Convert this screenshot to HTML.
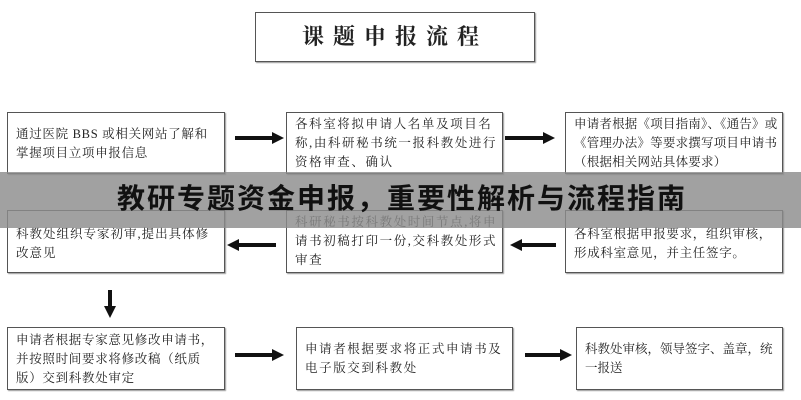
<!DOCTYPE html>
<html><head><meta charset="utf-8"><style>
body{margin:0;width:801px;height:400px;background:#fff;position:relative;overflow:hidden;font-family:"Liberation Serif","Noto Serif CJK SC","Noto Sans CJK SC",serif;color:#222}
.b{position:absolute;border:1px solid #555;box-shadow:1px 1px 1px #999;background:#fff;box-sizing:border-box;padding:6px 4px 6px 8px;font-size:12.5px;line-height:19px;letter-spacing:0.7px}
.m{letter-spacing:1.6px}
.t{position:absolute;left:255px;top:12px;width:280px;height:50px;border:1px solid #555;box-shadow:1px 1px 1px #999;box-sizing:border-box;font-size:22px;font-weight:bold;text-align:center;line-height:48px;letter-spacing:9px}
.banner{position:absolute;left:0;top:172px;width:801px;height:56px;background:rgba(140,140,140,0.82)}
.banner span{position:absolute;left:117px;top:0;white-space:nowrap;font-family:"Liberation Sans","Noto Sans CJK SC",sans-serif;font-weight:bold;font-size:28px;line-height:54px;color:#111;letter-spacing:2px}
svg{position:absolute;left:0;top:0}
</style></head><body>
<div class="t">课题申报流程</div>
<div class="b" style="left:7px;top:112px;width:218px;height:62px;padding-top:12px">通过医院 BBS 或相关网站了解和掌握项目立项申报信息</div>
<div class="b m" style="left:286px;top:112px;width:217px;height:62px;padding-top:2px">各科室将拟申请人名单及项目名称,由科研秘书统一报科教处进行资格审查、确认</div>
<div class="b" style="left:565px;top:112px;width:218px;height:62px;padding-top:2px;letter-spacing:0.2px">申请者根据《项目指南》、《通告》或《管理办法》等要求撰写项目申请书（根据相关网站具体要求）</div>
<div class="b" style="left:7px;top:210px;width:218px;height:63px;padding-top:14px;letter-spacing:1px">科教处组织专家初审,提出具体修改意见</div>
<div class="b m" style="left:286px;top:210px;width:217px;height:63px;padding-top:2px">科研秘书按科教处时间节点,将申请书初稿打印一份,交科教处形式审查</div>
<div class="b" style="left:565px;top:210px;width:218px;height:63px;padding-top:14px">各科室根据申报要求，组织审核，形成科室意见，并主任签字。</div>
<div class="b" style="left:7px;top:327px;width:218px;height:63px;padding-top:3px">申请者根据专家意见修改申请书，并按照时间要求将修改稿（纸质版）交到科教处审定</div>
<div class="b m" style="left:296px;top:327px;width:217px;height:63px;padding-top:12px">申请者根据要求将正式申请书及电子版交到科教处</div>
<div class="b" style="left:576px;top:327px;width:207px;height:63px;padding-top:12px;letter-spacing:0">科教处审核，领导签字、盖章，统一报送</div>
<svg width="801" height="400">
<g stroke="#111" stroke-width="4" fill="#111">
<line x1="235" y1="138" x2="274" y2="138"/><polygon points="272,132 284,138 272,144" stroke="none"/>
<line x1="505" y1="138" x2="545" y2="138"/><polygon points="543,132 555,138 543,144" stroke="none"/>
<line x1="237" y1="245" x2="276" y2="245"/><polygon points="239,239 227,245 239,251" stroke="none"/>
<line x1="520" y1="245" x2="556" y2="245"/><polygon points="522,239 510,245 522,251" stroke="none"/>
<line x1="110" y1="290" x2="110" y2="308"/><polygon points="104,306 110,318 116,306" stroke="none"/>
<line x1="235" y1="355" x2="274" y2="355"/><polygon points="272,349 284,355 272,361" stroke="none"/>
<line x1="525" y1="355" x2="562" y2="355"/><polygon points="560,349 572,355 560,361" stroke="none"/>
</g></svg>
<div class="banner"><span>教研专题资金申报，重要性解析与流程指南</span></div>
</body></html>
